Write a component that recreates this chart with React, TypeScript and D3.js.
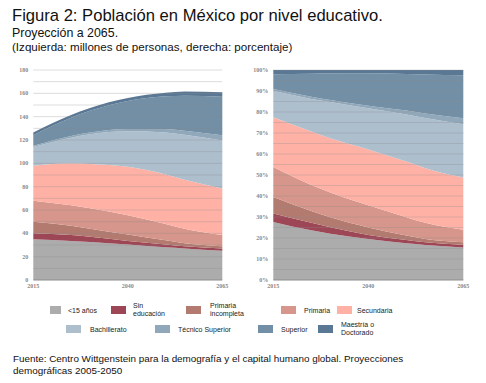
import React from "react";
import * as d3 from "d3";

const years = [2015, 2025, 2030, 2040, 2050, 2055, 2065];
const menores15 = [35, 33.5, 32.5, 30.5, 28, 27, 25];
const sinEducacion = [5, 5, 4.5, 3, 2.5, 2, 2];
const primariaIncompleta = [10, 8, 7, 5.5, 3.5, 2.5, 2];
const primaria = [18, 17.5, 17.5, 16.5, 14, 12.5, 9.5];
const secundaria = [30, 36, 38, 41.5, 42.5, 42, 40];
const bachillerato = [16, 22, 25.5, 30.5, 36, 38.5, 41];
const tecnicoSuperior = [1, 1.5, 1.5, 2, 3, 3.5, 4.5];
const superior = [9, 15.5, 18.5, 24, 28, 30, 33];
const maestria = [2.5, 2.5, 2.5, 2.5, 3, 3.5, 4];

const seriesNames = [
  "<15 años",
  "Sin educación",
  "Primaria incompleta",
  "Primaria",
  "Secundaria",
  "Bachillerato",
  "Técnico Superior",
  "Superior",
  "Maestría o Doctorado",
];
const seriesValues = [
  menores15,
  sinEducacion,
  primariaIncompleta,
  primaria,
  secundaria,
  bachillerato,
  tecnicoSuperior,
  superior,
  maestria,
];
const colors = [
  "#acacac",
  "#9d4656",
  "#b37a70",
  "#d6968b",
  "#ffb1a5",
  "#adbecd",
  "#91a8ba",
  "#728fa5",
  "#5a7894",
];
const leftTicks = [0, 20, 40, 60, 80, 100, 120, 140, 160, 180];
const rightTicks = [0, 0.1, 0.2, 0.3, 0.4, 0.5, 0.6, 0.7, 0.8, 0.9, 1];
const xTicks = [2015, 2040, 2065];

const legendItems = [
  { i: 0, sx: 50, sw: 11, y: 310, lx: 68, lines: ["<15 años"] },
  { i: 1, sx: 111, sw: 15, y: 310, lx: 133, lines: ["Sin", "educación"] },
  { i: 2, sx: 186, sw: 15, y: 310, lx: 210, lines: ["Primaria", "incompleta"] },
  { i: 3, sx: 281, sw: 15, y: 310, lx: 304, lines: ["Primaria"] },
  { i: 4, sx: 337, sw: 15, y: 310, lx: 357, lines: ["Secundaria"] },
  { i: 5, sx: 66, sw: 15, y: 329, lx: 90, lines: ["Bachillerato"] },
  { i: 6, sx: 155, sw: 15, y: 329, lx: 178, lines: ["Técnico Superior"] },
  { i: 7, sx: 258, sw: 15, y: 329, lx: 281, lines: ["Superior"] },
  { i: 8, sx: 318, sw: 15, y: 329, lx: 341, lines: ["Maestría o", "Doctorado"] },
];

type Row = { [k: string]: number };
const rows: Row[] = years.map((yr, j) => {
  const r: Row = { year: yr };
  seriesNames.forEach((n, i) => (r[n] = seriesValues[i][j]));
  return r;
});

const TOP = 70;
const BOTTOM = 280;

function Panel({
  x0,
  x1,
  expand,
}: {
  x0: number;
  x1: number;
  expand: boolean;
}) {
  const x = d3.scaleLinear().domain([2015, 2065]).range([x0, x1]);
  const y = d3
    .scaleLinear()
    .domain(expand ? [0, 1] : [0, 180])
    .range([BOTTOM, TOP]);
  const stack = d3.stack<Row>().keys(seriesNames);
  if (expand) stack.offset(d3.stackOffsetExpand);
  const layers = stack(rows);
  const area = d3
    .area<any>()
    .x((d) => x(d.data.year))
    .y0((d) => y(d[0]))
    .y1((d) => y(d[1]))
    .curve(d3.curveMonotoneX);
  const ticks = expand ? rightTicks : leftTicks;
  const grid = expand ? d3.range(0.05, 1.001, 0.05) : d3.range(10, 181, 10);
  const fmt = expand ? d3.format(".0%") : d3.format("d");
  return (
    <g>
      {layers.map((l, i) => (
        <path key={i} d={area(l) || ""} fill={colors[i]} />
      ))}
      {grid.map((g, i) => (
        <line
          key={i}
          x1={x0}
          x2={x1}
          y1={y(g)}
          y2={y(g)}
          stroke="#8a8a8a"
          strokeOpacity={0.3}
          strokeWidth={1}
        />
      ))}
      <line x1={x0} x2={x1} y1={y(0)} y2={y(0)} stroke="#8c8c8c" strokeWidth={1.2} />
      {ticks.map((t, i) => (
        <text
          key={i}
          x={x0 - 5}
          y={y(t) + 2}
          textAnchor="end"
          fontFamily="'Liberation Serif', serif"
          fontWeight="bold"
          fontSize={6}
          fill="#8a8a8a"
        >
          {fmt(t)}
        </text>
      ))}
      {xTicks.map((t, i) => (
        <text
          key={i}
          x={x(t)}
          y={BOTTOM + 8}
          textAnchor="middle"
          fontFamily="'Liberation Serif', serif"
          fontWeight="bold"
          fontSize={6}
          fill="#8a8a8a"
        >
          {t}
        </text>
      ))}
    </g>
  );
}

export default function App() {
  const sans = "'Liberation Sans', Arial, sans-serif";
  return (
    <svg
      width={486}
      height={383}
      style={{ position: "absolute", left: 0, top: 0, background: "#fff" }}
    >
      <rect width={486} height={383} fill="#fff" />
      <text x={12} y={21} fontFamily={sans} fontSize={16.6} fill="#111">
        Figura 2: Población en México por nivel educativo.
      </text>
      <text x={12} y={37} fontFamily={sans} fontSize={12.4} fill="#111">
        Proyección a 2065.
      </text>
      <text x={12} y={50.5} fontFamily={sans} fontSize={11.6} fill="#111">
        (Izquierda: millones de personas, derecha: porcentaje)
      </text>
      <Panel x0={33.3} x1={222.3} expand={false} />
      <Panel x0={273.3} x1={463.3} expand={true} />
      {legendItems.map((it, k) => (
        <g key={k}>
          <rect x={it.sx} y={it.y - 4} width={it.sw} height={8} fill={colors[it.i]} />
          {it.lines.map((ln, j) => (
            <text
              key={j}
              x={it.lx}
              y={
                it.lines.length === 1
                  ? it.y + 2.5
                  : it.y - 2.5 + j * 8.5
              }
              fontFamily={sans}
              fontSize={7}
              fill="#222"
            >
              {ln}
            </text>
          ))}
        </g>
      ))}
      <text x={13} y={362} fontFamily={sans} fontSize={9.9} fill="#111">
        Fuente: Centro Wittgenstein para la demografía y el capital humano global. Proyecciones
      </text>
      <text x={13} y={374} fontFamily={sans} fontSize={9.9} fill="#111">
        demográficas 2005-2050
      </text>
    </svg>
  );
}
